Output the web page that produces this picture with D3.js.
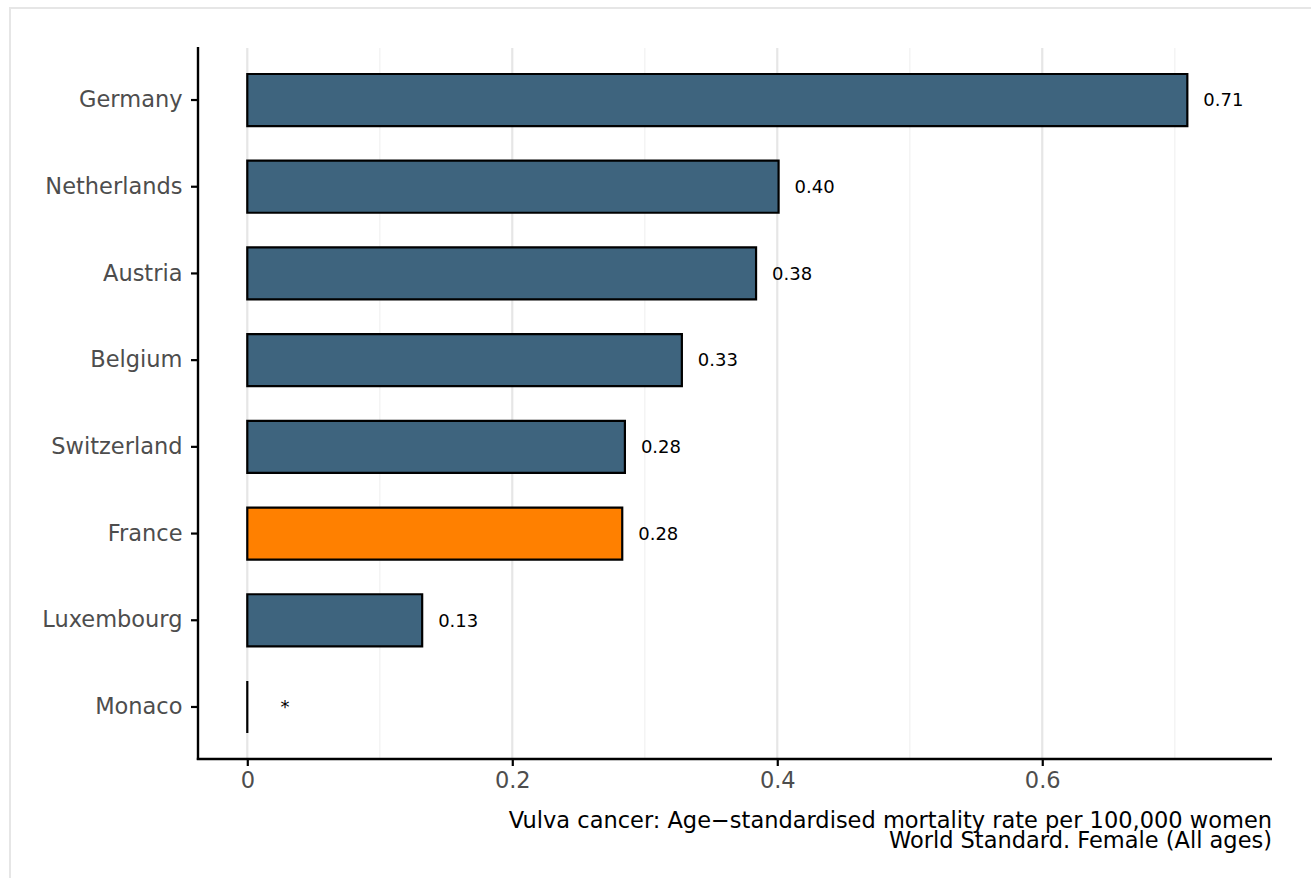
<!DOCTYPE html>
<html>
<head>
<meta charset="utf-8">
<script src="https://cdn.jsdelivr.net/npm/d3@7"></script>
<style>
  html, body { margin: 0; padding: 0; background: #ffffff; }
  svg { display: block; font-family: "DejaVu Sans", sans-serif; }
</style>
</head>
<body>
<svg id="chart" width="1311" height="878"></svg>
<script>
// ---- data ----
const countries = ["Germany", "Netherlands", "Austria", "Belgium", "Switzerland", "France", "Luxembourg", "Monaco"];
const rates = [0.7095, 0.401, 0.384, 0.328, 0.285, 0.283, 0.132, 0];
const rateLabels = ["0.71", "0.40", "0.38", "0.33", "0.28", "0.28", "0.13", "*"];
const highlight = ["France"];
const xTicks = [0, 0.2, 0.4, 0.6];
const xMinorTicks = [0.1, 0.3, 0.5, 0.7];
const xTickLabels = ["0", "0.2", "0.4", "0.6"];
const axisTitle = ["Vulva cancer: Age\u2212standardised mortality rate per 100,000 women", "World Standard. Female (All ages)"];

// ---- layout ----
const W = 1311, H = 878;
const panel = { left: 198, right: 1272, top: 48, bottom: 759 };
const svg = d3.select("#chart");

// outer frame (light grey border, cut at right/bottom)
svg.append("rect")
  .attr("x", 10).attr("y", 8)
  .attr("width", W + 20).attr("height", H + 20)
  .attr("fill", "#ffffff")
  .attr("stroke", "#e6e6e6").attr("stroke-width", 2);

const x = d3.scaleLinear().domain([-0.0372, 0.7734]).range([panel.left, panel.right]);
const y = d3.scaleBand().domain(countries).range([panel.top, panel.bottom])
  .paddingInner(0.4).paddingOuter(0.3);

// grid lines
svg.append("g").selectAll("line.minor").data(xMinorTicks).join("line")
  .attr("x1", d => x(d)).attr("x2", d => x(d))
  .attr("y1", panel.top).attr("y2", panel.bottom)
  .attr("stroke", "#f4f4f4").attr("stroke-width", 1.6);
svg.append("g").selectAll("line.major").data(xTicks).join("line")
  .attr("x1", d => x(d)).attr("x2", d => x(d))
  .attr("y1", panel.top).attr("y2", panel.bottom)
  .attr("stroke", "#e6e6e6").attr("stroke-width", 2.2);

// bars (paths so a zero value still shows as a line)
const rows = countries.map((c, i) => ({ c, v: rates[i], label: rateLabels[i] }));
svg.append("g").selectAll("path").data(rows).join("path")
  .attr("d", d => {
    const x0 = x(0), x1 = x(d.v), y0 = y(d.c), y1 = y(d.c) + y.bandwidth();
    return `M${x0},${y0}H${x1}V${y1}H${x0}Z`;
  })
  .attr("fill", d => highlight.includes(d.c) ? "#ff8000" : "#3e647e")
  .attr("stroke", "#000000").attr("stroke-width", 2.2)
  .attr("stroke-linejoin", "miter");

// value labels
svg.append("g").selectAll("text").data(rows).join("text")
  .attr("x", d => d.label === "*" ? x(0.025) : x(d.v) + 16)
  .attr("y", d => y(d.c) + y.bandwidth() / 2)
  .attr("dy", "0.35em")
  .attr("font-size", 18).attr("fill", "#000000")
  .text(d => d.label);

// axes
const yAxis = d3.axisLeft(y).tickSize(7).tickPadding(8.5);
const gy = svg.append("g").attr("transform", `translate(${panel.left},0)`).call(yAxis);
gy.select(".domain").remove();
gy.selectAll(".tick line").attr("stroke", "#000").attr("stroke-width", 2.2);
gy.selectAll(".tick text").attr("font-size", 22.5).attr("fill", "#4d4d4d")
  .attr("font-family", "DejaVu Sans, sans-serif");

const xAxis = d3.axisBottom(x).tickValues(xTicks).tickFormat((d, i) => xTickLabels[i]).tickSize(7).tickPadding(6);
const gx = svg.append("g").attr("transform", `translate(0,${panel.bottom})`).call(xAxis);
gx.select(".domain").remove();
gx.selectAll(".tick line").attr("stroke", "#000").attr("stroke-width", 2.2);
gx.selectAll(".tick text").attr("font-size", 22.5).attr("fill", "#4d4d4d")
  .attr("font-family", "DejaVu Sans, sans-serif");

// axis lines
svg.append("line").attr("x1", panel.left).attr("x2", panel.left)
  .attr("y1", panel.top - 1).attr("y2", panel.bottom + 1.1)
  .attr("stroke", "#000").attr("stroke-width", 2.4);
svg.append("line").attr("x1", panel.left - 1.2).attr("x2", panel.right)
  .attr("y1", panel.bottom).attr("y2", panel.bottom)
  .attr("stroke", "#000").attr("stroke-width", 2.4);

// axis title (two lines, right aligned)
const t = svg.append("text").attr("text-anchor", "end").attr("font-size", 22.5).attr("fill", "#000");
axisTitle.forEach((line, i) => {
  t.append("tspan").attr("x", panel.right).attr("y", 828 + i * 20).text(line);
});
</script>
</body>
</html>
